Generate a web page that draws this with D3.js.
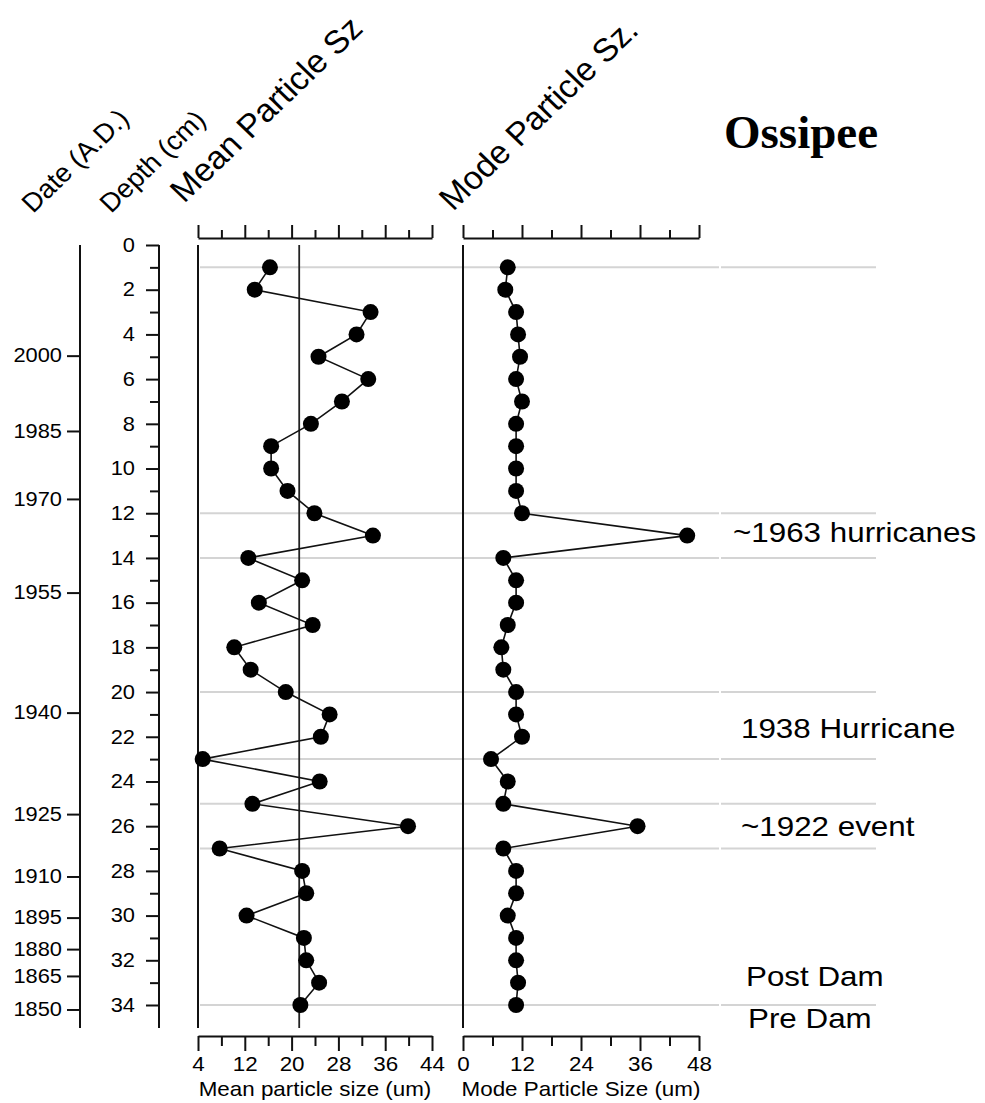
<!DOCTYPE html>
<html>
<head>
<meta charset="utf-8">
<script src="https://cdn.jsdelivr.net/npm/d3@7"></script>
<style>
  html, body { margin: 0; padding: 0; background: #fff; }
  svg { display: block; }
</style>
</head>
<body>
<svg id="chart" width="985" height="1103"></svg>
<script>
// ---------------- DATA ----------------
const depths = [1,2,3,4,5,6,7,8,9,10,11,12,13,14,15,16,17,18,19,20,21,22,23,24,25,26,27,28,29,30,31,32,33,34];
const meanSize = [16.3,13.7,33.5,31.1,24.6,33.1,28.6,23.3,16.5,16.5,19.3,23.9,33.9,12.6,21.8,14.4,23.6,10.2,13.0,19.0,26.5,25.0,4.8,24.8,13.3,39.9,7.7,21.8,22.5,12.3,22.1,22.5,24.7,21.5];
const modeSize = [9.1,8.6,10.8,11.2,11.6,10.8,12.0,10.8,10.8,10.8,10.8,12.0,45.6,8.2,10.8,10.8,9.1,7.8,8.2,10.8,10.8,12.0,5.7,9.1,8.2,35.5,8.2,10.8,10.8,9.1,10.8,10.8,11.2,10.8];
const meanRef = 21.3;

const depthTicks = [0,1,2,3,4,5,6,7,8,9,10,11,12,13,14,15,16,17,18,19,20,21,22,23,24,25,26,27,28,29,30,31,32,33,34];
const dateLabels = [2000,1985,1970,1955,1940,1925,1910,1895,1880,1865,1850];
const dateDepths = [4.95,8.32,11.36,15.55,20.92,25.46,28.25,30.09,31.5,32.7,34.2];
const meanTicks = [4,8,12,16,20,24,28,32,36,40,44];
const meanMajor = [4,12,20,28,36,44];
const modeTicks = [0,6,12,18,24,30,36,42,48];
const modeMajor = [0,12,24,36,48];
const gridDepths = [1,12,14,20,23,25,27,34];

const headers = ["Date (A.D.)","Depth (cm)","Mean Particle Sz","Mode Particle Sz."];
const annotations = ["~1963 hurricanes","1938 Hurricane","~1922 event","Post Dam","Pre Dam"];
const annotationDepths = [12.85,21.6,26.0,32.7,34.6];
const title = "Ossipee";
const meanAxisTitle = "Mean particle size (um)";
const modeAxisTitle = "Mode Particle Size (um)";

// ---------------- LAYOUT ----------------
const FONT = "'Liberation Sans', Arial, sans-serif";
const SX = 1.12;               // horizontal stretch of the original lettering
const INK = "#111";
const svg = d3.select("#chart");

const y = d3.scaleLinear().domain([0, 34]).range([245, 1005]);
const xMean = d3.scaleLinear().domain([4, 44]).range([198, 432]);
const xMode = d3.scaleLinear().domain([0, 48]).range([463, 699]);
const topAxisY = 238, bottomAxisY = 1036, panelBottom = 1028;

function styleAxis(g, size) {
  g.attr("font-family", FONT).attr("font-size", size).attr("fill", null);
  g.selectAll(".domain").attr("stroke", INK).attr("stroke-width", 2);
  g.selectAll(".tick line").attr("stroke", INK).attr("stroke-width", 2);
  g.selectAll(".tick text").attr("fill", "#000");
}

// ---------- grey horizontal reference lines ----------
const grid = svg.append("g");
gridDepths.forEach(d => {
  [[200, 719], [721, 876]].forEach(([a, b]) => {
    grid.append("line").attr("x1", a).attr("x2", b)
      .attr("y1", y(d)).attr("y2", y(d))
      .attr("stroke", "#d4d4d4").attr("stroke-width", 2);
  });
});

// ---------- Date axis ----------
const gDate = svg.append("g").attr("transform", "translate(80,0)")
  .call(d3.axisLeft(y).tickValues(dateDepths).tickFormat((d, i) => dateLabels[i]).tickSize(13).tickSizeOuter(0));
styleAxis(gDate, 19.5);
gDate.select(".domain").remove();
gDate.selectAll(".tick text").attr("x", -18 / SX).attr("transform", `scale(${SX},1)`);
gDate.append("line").attr("x1", 0).attr("x2", 0).attr("y1", y(0)).attr("y2", panelBottom)
  .attr("stroke", INK).attr("stroke-width", 2);

// ---------- Depth axis ----------
const gDepth = svg.append("g").attr("transform", "translate(159,0)")
  .call(d3.axisLeft(y).tickValues(depthTicks).tickFormat(d => d % 2 === 0 ? d : "").tickSizeOuter(0));
styleAxis(gDepth, 19.5);
gDepth.select(".domain").remove();
gDepth.selectAll(".tick line").attr("x2", d => d % 2 === 0 ? -13 : -9);
gDepth.selectAll(".tick text").attr("x", -24 / SX).attr("transform", `scale(${SX},1)`);
gDepth.append("line").attr("x1", 0).attr("x2", 0).attr("y1", y(0)).attr("y2", panelBottom)
  .attr("stroke", INK).attr("stroke-width", 2);

// ---------- panel builder ----------
function panel(x, ticks, major, values, refValue, axisTitle) {
  const gTop = svg.append("g").attr("transform", `translate(0,${topAxisY})`)
    .call(d3.axisTop(x).tickValues(ticks).tickFormat("").tickSizeOuter(0));
  styleAxis(gTop, 18);
  gTop.selectAll(".tick line").attr("y2", d => major.includes(d) ? -13 : -8);

  const gBot = svg.append("g").attr("transform", `translate(0,${bottomAxisY})`)
    .call(d3.axisBottom(x).tickValues(ticks).tickFormat(d => major.includes(d) ? d : "").tickSizeOuter(0));
  styleAxis(gBot, 20);
  gBot.selectAll(".tick line").attr("y2", d => major.includes(d) ? 15 : 10);
  gBot.selectAll(".tick text").attr("y", 35).attr("dy", 0).attr("transform", `scale(${SX},1)`);

  // left vertical line
  const x0 = x.range()[0];
  svg.append("line").attr("x1", x0).attr("x2", x0).attr("y1", y(0)).attr("y2", panelBottom)
    .attr("stroke", INK).attr("stroke-width", 2);
  if (refValue !== null) {
    svg.append("line").attr("x1", x(refValue)).attr("x2", x(refValue))
      .attr("y1", y(0)).attr("y2", panelBottom)
      .attr("stroke", "#222").attr("stroke-width", 1.8);
  }

  const pts = depths.map((d, i) => ({ d, v: values[i] }));
  svg.append("path").datum(pts)
    .attr("d", d3.line().x(p => x(p.v)).y(p => y(p.d)))
    .attr("fill", "none").attr("stroke", INK).attr("stroke-width", 1.6);
  svg.append("g").selectAll("circle").data(pts).join("circle")
    .attr("cx", p => x(p.v)).attr("cy", p => y(p.d)).attr("r", 8).attr("fill", "#000");

  const cx = (x.range()[0] + x.range()[1]) / 2;
  svg.append("text").attr("transform", `translate(${cx},1096) scale(${SX},1)`)
    .attr("text-anchor", "middle").attr("font-family", FONT).attr("font-size", 20)
    .attr("fill", "#000").text(axisTitle);
}

panel(xMean, meanTicks, meanMajor, meanSize, meanRef, meanAxisTitle);
panel(xMode, modeTicks, modeMajor, modeSize, null, modeAxisTitle);

// ---------- rotated headers ----------
const headerPos = [[33, 214, 26.5], [111, 214, 26.5], [184, 204, 32.5], [453, 212, 32.5]];
headers.forEach((h, i) => {
  const [hx, hy, fs] = headerPos[i];
  svg.append("text").attr("transform", `translate(${hx},${hy}) scale(1.04,1) rotate(-45)`)
    .attr("font-family", FONT).attr("font-size", fs).attr("fill", "#000").text(h);
});

// ---------- title ----------
svg.append("text").attr("x", 724).attr("y", 148)
  .attr("font-family", "'Liberation Serif', 'Times New Roman', serif")
  .attr("font-weight", "bold").attr("font-size", 47).attr("fill", "#000").text(title);

// ---------- annotations ----------
const annX = [733, 741, 741, 746, 748];
annotations.forEach((a, i) => {
  svg.append("text").attr("transform", `translate(${annX[i]},${y(annotationDepths[i])}) scale(${SX},1)`)
    .attr("dominant-baseline", "central")
    .attr("font-family", FONT).attr("font-size", 28).attr("fill", "#000").text(a);
});
</script>
</body>
</html>
